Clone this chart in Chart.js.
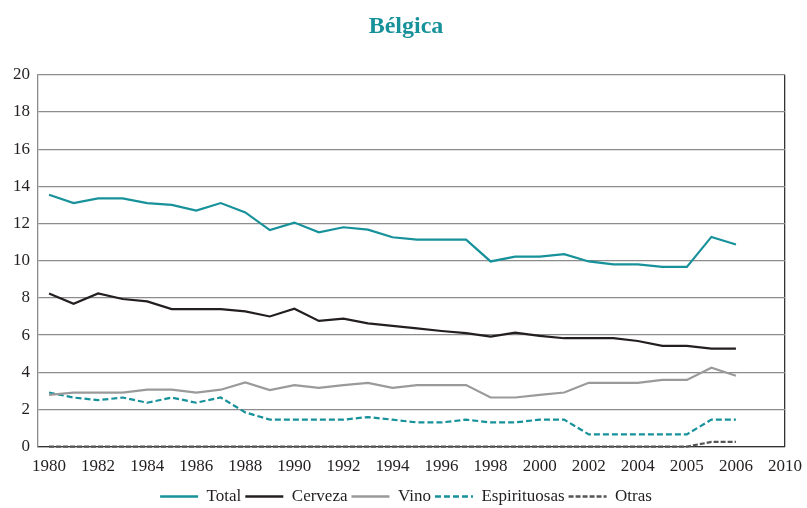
<!DOCTYPE html>
<html>
<head>
<meta charset="utf-8">
<script src="https://cdn.jsdelivr.net/npm/chart.js@4"></script>
<style>
  html, body { margin: 0; padding: 0; background: #fff; }
  #wrap { width: 807px; height: 508px; }
</style>
</head>
<body>
<div id="wrap"><canvas id="chart" width="807" height="508"></canvas></div>
<script>
// Labels shown under the axis, one per two positions
const xTickLabels = ["1980", "1982", "1984", "1986", "1988", "1990", "1992", "1994", "1996", "1998", "2000", "2002", "2004", "2005", "2006", "2010"]
const yTicks = [0, 2, 4, 6, 8, 10, 12, 14, 16, 18, 20]

const total = [13.55, 13.1, 13.35, 13.35, 13.1, 13.0, 12.7, 13.1, 12.6, 11.65, 12.05, 11.53, 11.8, 11.67, 11.26, 11.13, 11.13, 11.13, 9.96, 10.22, 10.22, 10.35, 9.96, 9.8, 9.8, 9.67, 9.67, 11.28, 10.87]
const cerveza = [8.24, 7.68, 8.24, 7.94, 7.81, 7.4, 7.4, 7.4, 7.27, 7.0, 7.42, 6.76, 6.88, 6.63, 6.49, 6.36, 6.22, 6.1, 5.92, 6.13, 5.96, 5.83, 5.83, 5.83, 5.68, 5.42, 5.42, 5.27, 5.27]
const vino = [2.78, 2.9, 2.9, 2.9, 3.06, 3.06, 2.9, 3.06, 3.45, 3.04, 3.31, 3.16, 3.31, 3.43, 3.16, 3.31, 3.31, 3.31, 2.64, 2.64, 2.78, 2.91, 3.43, 3.43, 3.43, 3.59, 3.59, 4.24, 3.81]
const espirituosas = [2.91, 2.64, 2.5, 2.64, 2.36, 2.64, 2.36, 2.64, 1.84, 1.45, 1.45, 1.45, 1.45, 1.59, 1.45, 1.3, 1.3, 1.45, 1.3, 1.3, 1.45, 1.45, 0.66, 0.66, 0.66, 0.66, 0.66, 1.45, 1.45]
const otras = [0, 0, 0, 0, 0, 0, 0, 0, 0, 0, 0, 0, 0, 0, 0, 0, 0, 0, 0, 0, 0, 0, 0, 0, 0, 0, 0, 0.25, 0.25]

const teal = "#17919a"
const serif = "'Liberation Serif', 'DejaVu Serif', serif"
const textColor = "#231f20"

function toPoints(values) {
  return values.map((v, i) => ({ x: i, y: v }))
}

function line(label, values, color, dash) {
  return {
    label: label,
    data: toPoints(values),
    borderColor: color,
    backgroundColor: color,
    borderWidth: 2.2,
    borderDash: dash || [],
    pointRadius: 0,
    tension: 0,
    clip: false,
  }
}

new Chart(document.getElementById("chart"), {
  type: "line",
  data: {
    datasets: [
      line("Total", total, teal),
      line("Cerveza", cerveza, textColor),
      line("Vino", vino, "#9a9a9a"),
      line("Espirituosas", espirituosas, teal, [6, 3]),
      line("Otras", otras, "#555555", [5, 2]),
    ],
  },
  options: {
    responsive: false,
    animation: false,
    layout: { padding: { left: 5, right: 0, top: 0, bottom: -7 } },
    plugins: {
      title: {
        display: true,
        text: "Bélgica",
        color: teal,
        font: { family: serif, size: 24, weight: "bold" },
        padding: { top: 12, bottom: 34 },
      },
      legend: {
        position: "bottom",
        labels: {
          usePointStyle: true,
          pointStyle: "line",
          pointStyleWidth: 38,
          padding: 4,
          color: textColor,
          font: { family: serif, size: 17 },
          generateLabels: (chart) => {
            // keep the dash of each series in its legend sample
            const items = Chart.defaults.plugins.legend.labels.generateLabels(chart)
            items.forEach((item) => {
              const ds = chart.data.datasets[item.datasetIndex]
              item.lineDash = ds.borderDash
              item.lineWidth = 2.5
            })
            return items
          },
        },
      },
      tooltip: { enabled: false },
    },
    scales: {
      x: {
        type: "linear",
        min: -0.45,
        max: 30,
        afterFit: (axis) => {
          axis.height -= 3
          axis.paddingRight = 22
        },
        ticks: {
          stepSize: 2,
          includeBounds: false,
          autoSkip: false,
          maxRotation: 0,
          color: textColor,
          font: { family: serif, size: 17 },
          padding: 10,
          callback: (v) => xTickLabels[v / 2],
        },
        grid: {
          drawTicks: false,
          color: (ctx) => (ctx.tick && ctx.tick.value === 30 ? "#333" : "transparent"),
          lineWidth: 1.3,
        },
        border: { color: "#333", width: 1.3 },
      },
      y: {
        min: 0,
        max: 20,
        afterBuildTicks: (axis) => {
          axis.ticks = yTicks.map((v) => ({ value: v }))
        },
        ticks: {
          color: textColor,
          font: { family: serif, size: 17 },
          padding: 8,
        },
        grid: {
          drawTicks: false,
          color: "#8c8c8c",
          lineWidth: 1.3,
        },
        border: { color: "#8c8c8c", width: 1.3 },
      },
    },
  },
})
</script>
</body>
</html>
